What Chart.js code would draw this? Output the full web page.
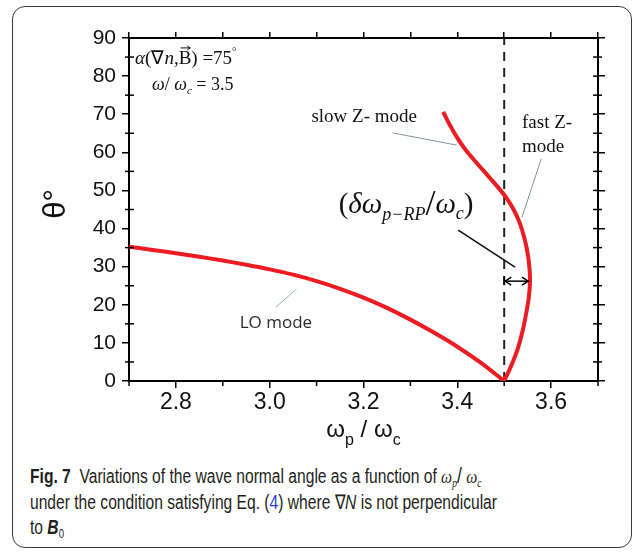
<!DOCTYPE html>
<html>
<head>
<meta charset="utf-8">
<script src="https://cdn.jsdelivr.net/npm/chart.js@4.4.0/dist/chart.umd.min.js"></script>
<style>
    body { margin: 0; background: #fff; }
    #frame { position: absolute; left: 12px; top: 6px; width: 618px; height: 540px; border: 1.5px solid #3a3a3a; border-radius: 13px; }
    #chart { position: absolute; left: 0; top: 0; }
    #caption { position: absolute; left: 30px; top: 463px; font-family: 'Liberation Sans', Arial, sans-serif; font-size: 19.5px; line-height: 25.5px; color: #231f20; white-space: nowrap; transform-origin: left top; }
    #caption div { width: max-content; }
    #caption .m { font-family: 'Liberation Serif', serif; font-style: italic; }
    #caption sub { font-size: 12px; line-height: 0; vertical-align: -4px; }
    #caption .ref { color: #2a3cd6; }
</style>
</head>
<body>
<div id="frame"></div>
<canvas id="chart" width="635" height="460"></canvas>
<div id="caption">
    <div><b>Fig. 7</b>&nbsp; Variations of the wave normal angle as a function of <span class="m">ω<sub>p</sub></span><span style="font-size:22px">/</span> <span class="m">ω<sub>c</sub></span></div>
    <div>under the condition satisfying Eq. (<span class="ref">4</span>) where ∇<i>N</i> is not perpendicular</div>
    <div>to <b><i>B</i></b><sub>0</sub></div>
</div>
<script>
// values
const loX = [2.70, 2.75, 2.80, 2.85, 2.90, 2.95, 3.00, 3.05, 3.10, 3.15, 3.20, 3.25, 3.30, 3.35, 3.40, 3.45, 3.50];
const loY = [35.2, 34.4, 33.5, 32.6, 31.6, 30.5, 29.3, 27.9, 26.2, 24.2, 21.9, 19.2, 16.1, 12.7, 9.0, 4.8, 0];

const zX = [3.370, 3.384, 3.400, 3.418, 3.440, 3.465, 3.487, 3.505, 3.520, 3.533, 3.543, 3.550, 3.554, 3.555, 3.553, 3.548, 3.540, 3.529, 3.515, 3.500];
const zY = [70.6, 67.2, 63.8, 60.6, 57.4, 53.9, 50.8, 48.0, 45.0, 41.5, 37.5, 33.5, 29.5, 26.2, 22.5, 18.5, 13.5, 8.5, 4.0, 0];

const resX = [3.5, 3.5];
const resY = [0, 90];

const xTicks = [2.8, 3.0, 3.2, 3.4, 3.6];
const xMinor = [2.7, 2.9, 3.1, 3.3, 3.5, 3.7];
const yTicks = [0, 10, 20, 30, 40, 50, 60, 70, 80, 90];
const yMinor = [5, 15, 25, 35, 45, 55, 65, 75, 85];

const SERIF = '"Liberation Serif", "Times New Roman", serif';
const SANS = '"Liberation Sans", Arial, sans-serif';

const toPoints = (xs, ys) => xs.map((x, i) => ({ x: x, y: ys[i] }));

// text labels placed in data coordinates (left edge, baseline)
const labels = [
    { x: 2.713, y: 83.2, runs: [
        { t: 'α', f: `italic 19px ${SERIF}` },
        { t: '(∇', f: `19px ${SERIF}` },
        { t: 'n', f: `italic 19px ${SERIF}` },
        { t: ',', f: `19px ${SERIF}` },
        { t: 'B', f: `19px ${SERIF}`, vec: true },
        { t: ') =75', f: `19px ${SERIF}` },
        { t: '°', f: `11px ${SERIF}`, dy: -9 }
    ]},
    { x: 2.749, y: 76.4, runs: [
        { t: 'ω', f: `italic 18px ${SERIF}` },
        { t: '/ ', f: `18px ${SERIF}` },
        { t: 'ω', f: `italic 18px ${SERIF}` },
        { t: 'c', f: `italic 11px ${SERIF}`, dy: 4 },
        { t: ' = 3.5', f: `18px ${SERIF}` }
    ]},
    { x: 3.089, y: 68.0, runs: [{ t: 'slow Z- mode', f: `19px ${SERIF}` }] },
    { x: 3.538, y: 66.4, runs: [{ t: 'fast Z-', f: `19px ${SERIF}` }] },
    { x: 3.538, y: 60.1, runs: [{ t: 'mode', f: `19px ${SERIF}` }] },
    { x: 3.147, y: 44.1, runs: [
        { t: '(', f: `29px ${SERIF}` },
        { t: 'δω', f: `italic 29px ${SERIF}` },
        { t: 'p−RP', f: `italic 18px ${SERIF}`, dy: 7 },
        { t: '/', f: `36px ${SERIF}`, dy: 2 },
        { t: 'ω', f: `italic 29px ${SERIF}` },
        { t: 'c', f: `italic 18px ${SERIF}`, dy: 6 },
        { t: ')', f: `29px ${SERIF}` }
    ]},
    { x: 2.936, y: 13.9, color: '#2b2b2b', runs: [{ t: 'LO mode', f: `17px "Open Sans", ${SANS}` }] }
];

const leaders = [
    { x1: 3.262, y1: 65.1, x2: 3.398, y2: 61.9, color: '#7f93a6', w: 1 },
    { x1: 3.579, y1: 58.3, x2: 3.538, y2: 43.0, color: '#7f93a6', w: 1 },
    { x1: 3.057, y1: 24.1, x2: 3.013, y2: 19.4, color: '#9aa8b4', w: 1 },
    { x1: 3.402, y1: 39.6, x2: 3.523, y2: 29.9, color: '#111', w: 1.6 }
];

const gapArrow = { x1: 3.5, x2: 3.553, y: 26.2 };

const runsWidth = (ctx, runs) => runs.reduce((w, r) => { ctx.font = r.f; return w + ctx.measureText(r.t).width; }, 0);

const drawRuns = (ctx, x, y, runs) => {
    let cx = x;
    runs.forEach(r => {
        ctx.font = r.f;
        const w = ctx.measureText(r.t).width;
        ctx.fillText(r.t, cx, y + (r.dy || 0));
        if (r.vec) {
            // little vector arrow over the letter
            const ay = y - 16;
            ctx.beginPath();
            ctx.moveTo(cx + 2, ay); ctx.lineTo(cx + w - 1, ay);
            ctx.moveTo(cx + w - 4, ay - 2); ctx.lineTo(cx + w - 1, ay); ctx.lineTo(cx + w - 4, ay + 2);
            ctx.lineWidth = 1; ctx.stroke();
        }
        cx += w;
    });
};

const line = (ctx, x1, y1, x2, y2) => {
    ctx.beginPath(); ctx.moveTo(x1, y1); ctx.lineTo(x2, y2); ctx.stroke();
};

const extras = {
    id: 'extras',
    afterDraw(chart) {
        const { ctx, chartArea: a } = chart;
        const sx = chart.scales.x, sy = chart.scales.y;
        const px = v => sx.getPixelForValue(v), py = v => sy.getPixelForValue(v);
        ctx.save();
        ctx.strokeStyle = '#000'; ctx.fillStyle = '#000'; ctx.lineWidth = 1.5;

        // minor ticks
        xMinor.forEach(v => { const X = px(v); line(ctx, X, a.bottom, X, a.bottom + 5); });
        yMinor.forEach(v => {
            const Y = py(v);
            line(ctx, a.left - 4, Y, a.left + 5, Y);
            line(ctx, a.right - 5, Y, a.right + 4, Y);
        });
        yTicks.forEach(v => { const Y = py(v); line(ctx, a.right - 5, Y, a.right, Y); });

        // leader lines
        leaders.forEach(l => {
            ctx.strokeStyle = l.color; ctx.lineWidth = l.w;
            line(ctx, px(l.x1), py(l.y1), px(l.x2), py(l.y2));
        });

        // double arrow for the gap
        ctx.strokeStyle = '#000'; ctx.lineWidth = 1.5;
        const ax1 = px(gapArrow.x1), ax2 = px(gapArrow.x2), ay = py(gapArrow.y);
        line(ctx, ax1, ay, ax2, ay);
        line(ctx, ax1, ay - 5, ax1, ay + 4);
        ctx.beginPath();
        ctx.moveTo(ax1 + 7, ay - 4); ctx.lineTo(ax1 + 1, ay); ctx.lineTo(ax1 + 7, ay + 4);
        ctx.moveTo(ax2 - 7, ay - 4); ctx.lineTo(ax2 - 1, ay); ctx.lineTo(ax2 - 7, ay + 4);
        ctx.stroke();

        // text labels
        ctx.textBaseline = 'alphabetic'; ctx.textAlign = 'left';
        labels.forEach(l => {
            ctx.fillStyle = l.color || '#111'; ctx.strokeStyle = l.color || '#111';
            drawRuns(ctx, px(l.x), py(l.y), l.runs);
        });

        // axis titles
        ctx.fillStyle = '#111';
        const xt = [
            { t: 'ω', f: `24px ${SANS}` },
            { t: 'p', f: `16px ${SANS}`, dy: 8 },
            { t: ' / ', f: `24px ${SANS}` },
            { t: 'ω', f: `24px ${SANS}` },
            { t: 'c', f: `16px ${SANS}`, dy: 8 }
        ];
        const xw = runsWidth(ctx, xt);
        drawRuns(ctx, (a.left + a.right) / 2 - xw / 2, 437, xt);

        ctx.translate(65, 204);
        ctx.rotate(-Math.PI / 2);
        ctx.textAlign = 'center';
        ctx.font = `31px ${SANS}`;
        ctx.fillText('θ°', 0, 0);
        ctx.restore();
    }
};

const setTicks = values => scale => { scale.ticks = values.map(v => ({ value: v })); };

new Chart(document.getElementById('chart'), {
    type: 'scatter',
    data: {
        datasets: [
            { label: 'LO mode', data: toPoints(loX, loY), showLine: true, borderColor: '#eb1c22', borderWidth: 4, pointRadius: 0, tension: 0.3 },
            { label: 'Z mode', data: toPoints(zX, zY), showLine: true, borderColor: '#eb1c22', borderWidth: 4, pointRadius: 0, tension: 0.3 },
            { label: 'resonance', data: toPoints(resX, resY), showLine: true, borderColor: '#222', borderWidth: 2, borderDash: [9, 7], pointRadius: 0 }
        ]
    },
    options: {
        responsive: false,
        animation: false,
        devicePixelRatio: 1,
        layout: { padding: 0 },
        plugins: { legend: { display: false }, tooltip: { enabled: false } },
        scales: {
            x: {
                type: 'linear', position: 'bottom', min: 2.7, max: 3.7,
                afterBuildTicks: setTicks(xTicks),
                afterFit: s => { s.height = 79; },
                ticks: { autoSkip: false, maxRotation: 0, padding: 1, color: '#111', font: { family: SANS, size: 23 }, callback: v => v.toFixed(1) },
                grid: { drawOnChartArea: false, drawTicks: true, tickLength: 7, color: '#000', lineWidth: 1.5 },
                border: { display: true, color: '#000', width: 2 }
            },
            x2: {
                type: 'linear', position: 'top', min: 2.7, max: 3.7,
                afterBuildTicks: setTicks(xTicks.concat(xMinor)),
                afterFit: s => { s.height = 38; },
                ticks: { display: false },
                grid: { drawOnChartArea: false, drawTicks: true, tickLength: 6, color: '#000', lineWidth: 1.5 },
                border: { display: true, color: '#000', width: 2 }
            },
            y: {
                type: 'linear', position: 'left', min: 0, max: 90,
                afterBuildTicks: setTicks(yTicks),
                afterFit: s => { s.width = 129; },
                ticks: { autoSkip: false, padding: 6, color: '#111', font: { family: SANS, size: 21 } },
                grid: { drawOnChartArea: false, drawTicks: true, tickLength: 7, color: '#000', lineWidth: 1.5 },
                border: { display: true, color: '#000', width: 2 }
            },
            y2: {
                type: 'linear', position: 'right', min: 0, max: 90,
                afterBuildTicks: setTicks(yTicks),
                afterFit: s => { s.width = 37; },
                ticks: { display: false },
                grid: { drawOnChartArea: false, drawTicks: true, tickLength: 7, color: '#000', lineWidth: 1.5 },
                border: { display: true, color: '#000', width: 2 }
            }
        }
    },
    plugins: [extras]
});

// squeeze the caption to the condensed width of the original
const cap = document.getElementById('caption');
const k = 467 / cap.children[1].getBoundingClientRect().width;
cap.style.transform = `scaleX(${k})`;
</script>
</body>
</html>
